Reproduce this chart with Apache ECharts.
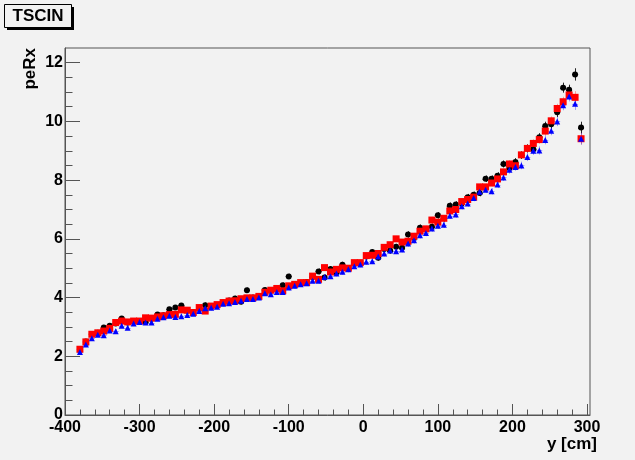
<!DOCTYPE html>
<html><head><meta charset="utf-8">
<script src="https://cdn.jsdelivr.net/npm/echarts@6/dist/echarts.min.js"></script>
<style>html,body{margin:0;padding:0;background:#f2f2f2;}#c{width:635px;height:460px;}</style>
</head><body><div id="c"></div>
<script>
// bin centres (cm)
const xBins = [-380,-372,-364,-356,-348,-340,-332,-324,-316,-308,-300,-292,-284,-276,-268,-260,-252,-244,-236,-228,-220,-212,-204,-196,-188,-180,-172,-164,-156,-148,-140,-132,-124,-116,-108,-100,-92,-84,-76,-68,-60,-52,-44,-36,-28,-20,-12,-4,4,12,20,28,36,44,52,60,68,76,84,92,100,108,116,124,132,140,148,156,164,172,180,188,196,204,212,220,228,236,244,252,260,268,276,284,292];
const blackVals = [2.25,2.50,2.76,2.80,2.98,3.04,3.12,3.29,3.15,3.20,
3.19,3.17,3.28,3.42,3.40,3.60,3.66,3.73,3.55,3.51,
3.62,3.74,3.71,3.75,3.83,3.90,3.97,3.86,4.25,4.00,
4.02,4.26,4.23,4.30,4.42,4.72,4.42,4.50,4.53,4.70,
4.89,4.68,4.97,4.85,5.12,5.00,5.15,5.16,5.40,5.55,
5.36,5.65,5.60,5.73,5.70,6.15,6.04,6.38,6.32,6.41,
6.80,6.70,7.13,7.17,7.20,7.42,7.50,7.56,8.05,8.05,
8.15,8.55,8.41,8.62,8.85,9.08,9.05,9.46,9.84,9.90,
10.31,11.15,11.08,11.60,9.79];
const redVals = [2.24,2.49,2.75,2.80,2.86,2.95,3.15,3.20,3.17,3.20,
3.20,3.31,3.30,3.34,3.38,3.42,3.43,3.58,3.57,3.49,
3.66,3.54,3.71,3.76,3.83,3.88,3.89,3.96,3.99,3.99,
4.04,4.18,4.25,4.31,4.23,4.40,4.45,4.51,4.51,4.73,
4.62,5.02,4.87,4.96,5.01,5.00,5.19,5.19,5.43,5.44,
5.50,5.71,5.80,6.00,5.89,5.92,6.09,6.26,6.34,6.64,
6.57,6.70,6.95,7.00,7.27,7.34,7.42,7.77,7.77,7.90,
8.04,8.28,8.55,8.49,8.86,9.08,9.25,9.38,9.67,10.02,
10.44,10.67,10.90,10.82,9.41];
const blueVals = [2.15,2.40,2.61,2.73,2.72,2.88,2.85,3.04,2.97,3.12,
3.17,3.15,3.15,3.28,3.33,3.38,3.34,3.36,3.41,3.45,
3.54,3.64,3.65,3.69,3.79,3.81,3.85,3.89,3.95,3.95,
4.00,4.15,4.11,4.19,4.19,4.34,4.40,4.45,4.49,4.57,
4.57,4.70,4.73,4.82,4.88,4.96,5.07,5.13,5.22,5.24,
5.40,5.50,5.60,5.58,5.64,5.84,5.95,6.12,6.20,6.35,
6.45,6.48,6.79,6.83,7.11,7.20,7.39,7.60,7.67,7.62,
7.85,8.09,8.35,8.45,8.50,8.79,9.00,9.01,9.37,9.68,
10.00,10.55,10.85,10.60,9.41];
const errY = [0.08,0.08,0.08,0.08,0.08,0.08,0.08,0.08,0.08,0.08,
0.08,0.08,0.08,0.08,0.08,0.08,0.08,0.08,0.08,0.08,
0.09,0.09,0.09,0.09,0.09,0.09,0.09,0.09,0.09,0.09,
0.09,0.09,0.09,0.09,0.09,0.09,0.09,0.09,0.09,0.09,
0.10,0.10,0.10,0.10,0.10,0.10,0.10,0.10,0.10,0.10,
0.10,0.10,0.10,0.10,0.10,0.11,0.11,0.11,0.11,0.11,
0.11,0.11,0.11,0.11,0.11,0.11,0.11,0.11,0.11,0.11,
0.12,0.12,0.13,0.13,0.13,0.14,0.14,0.14,0.15,0.15,
0.16,0.17,0.17,0.21,0.20];
const binHalfWidth = 4;
const xMajorTicks = [-400,-300,-200,-100,0,100,200,300];
const yMajorTicks = [0,2,4,6,8,10,12];
const xRange = [-400, 304];
const yRange = [0, 12.5];

const xMinorTicks = [];
for (let v = -400; v <= 300; v += 20) xMinorTicks.push(v);
const yMinorTicks = [];
for (let v = 0; v <= 12; v += 0.5) yMinorTicks.push(v);

const FONT = '"Liberation Sans", Arial, Helvetica, sans-serif';
const axisGrey = '#555';

function pts(vals){ return xBins.map((x,i)=>[x, vals[i], errY[i]]); }

function errSeries(vals, color, opacity){
  return {
    type:'custom', xAxisIndex:0, yAxisIndex:0, silent:true,
    data: pts(vals),
    renderItem: function(params, api){
      const x = api.value(0), y = api.value(1), e = api.value(2);
      const p0 = api.coord([x, y-e]), p1 = api.coord([x, y+e]);
      const q0 = api.coord([x-binHalfWidth, y]), q1 = api.coord([x+binHalfWidth, y]);
      const cx = Math.round(p0[0]) + 0.5, cy = Math.round(q0[1]) + 0.5;
      return {type:'group', children:[
        {type:'line', shape:{x1:cx,y1:p0[1],x2:cx,y2:p1[1]}, style:{stroke:color, lineWidth:1, opacity:opacity}},
        {type:'line', shape:{x1:q0[0],y1:cy,x2:q1[0],y2:cy}, style:{stroke:color, lineWidth:1, opacity:opacity}}
      ]};
    },
    animation:false
  };
}
function markSeries(vals, color, symbol, size){
  return {
    type:'scatter', xAxisIndex:0, yAxisIndex:0, silent:true,
    data: xBins.map((x,i)=>[x, vals[i]]),
    symbol: symbol, symbolSize: size,
    itemStyle:{color:color, opacity:1},
    animation:false
  };
}

const chart = echarts.init(document.getElementById('c'), null, {renderer:'canvas'});
chart.setOption({
  backgroundColor:'#f2f2f2',
  animation:false,
  grid:{left:65, right:45, top:48, bottom:45, show:true, borderColor:axisGrey, borderWidth:1, backgroundColor:'#f2f2f2', containLabel:false, outerBoundsMode:'none'},
  xAxis:[{
    type:'value', min:xRange[0], max:xRange[1],
    axisLine:{show:true, onZero:false, lineStyle:{color:axisGrey, width:1}},
    axisTick:{show:true, inside:true, length:11, customValues:xMajorTicks, lineStyle:{color:axisGrey, width:1}},
    axisLabel:{show:true, customValues:xMajorTicks, showMinLabel:true, showMaxLabel:true, hideOverlap:false,
      fontFamily:FONT, fontWeight:'bold', fontSize:16, color:'#000', margin:5},
    splitLine:{show:false}
  },{
    type:'value', min:xRange[0], max:xRange[1], position:'bottom',
    axisLine:{show:false, onZero:false},
    axisTick:{show:true, inside:true, length:5.5, customValues:xMinorTicks, lineStyle:{color:axisGrey, width:1}},
    axisLabel:{show:false}, splitLine:{show:false}
  }],
  yAxis:[{
    type:'value', min:yRange[0], max:yRange[1],
    axisLine:{show:true, onZero:false, lineStyle:{color:axisGrey, width:1}},
    axisTick:{show:true, inside:true, length:15, customValues:yMajorTicks, lineStyle:{color:axisGrey, width:1}},
    axisLabel:{show:true, customValues:yMajorTicks, showMinLabel:true, showMaxLabel:true, hideOverlap:false,
      fontFamily:FONT, fontWeight:'bold', fontSize:16, color:'#000', margin:2},
    splitLine:{show:false}
  },{
    type:'value', min:yRange[0], max:yRange[1], position:'left',
    axisLine:{show:false, onZero:false},
    axisTick:{show:true, inside:true, length:7.5, customValues:yMinorTicks, lineStyle:{color:axisGrey, width:1}},
    axisLabel:{show:false}, splitLine:{show:false}
  }],
  graphic:[
    {type:'rect', shape:{x:7, y:7, width:67, height:23}, style:{fill:'#000'}, z:100},
    {type:'rect', shape:{x:4.5, y:4.5, width:67, height:23}, style:{fill:'#f2f2f2', stroke:'#000', lineWidth:1}, z:101},
    {type:'text', x:38, y:16.5, z:102, style:{text:'TSCIN', font:'bold 17px '+FONT, fill:'#000', align:'center', verticalAlign:'middle', textAlign:'center', textVerticalAlign:'middle'}},
    {type:'text', x:30, y:48, rotation:Math.PI/2, z:102, style:{text:'peRx', font:'bold 17px '+FONT, fill:'#000', align:'right', verticalAlign:'middle', textAlign:'right', textVerticalAlign:'middle'}},
    {type:'text', x:597, y:444, z:102, style:{text:'y [cm]', font:'bold 17px '+FONT, fill:'#000', align:'right', verticalAlign:'middle', textAlign:'right', textVerticalAlign:'middle'}}
  ],
  series:[
    errSeries(blackVals, '#000', 0.85),
    markSeries(blackVals, '#000', 'circle', 6),
    errSeries(redVals, '#ff0000', 0.35),
    markSeries(redVals, '#ff0000', 'rect', 7),
    errSeries(blueVals, '#0000ff', 0.35),
    markSeries(blueVals, '#0000ff', 'triangle', 6)
  ]
});
</script></body></html>
